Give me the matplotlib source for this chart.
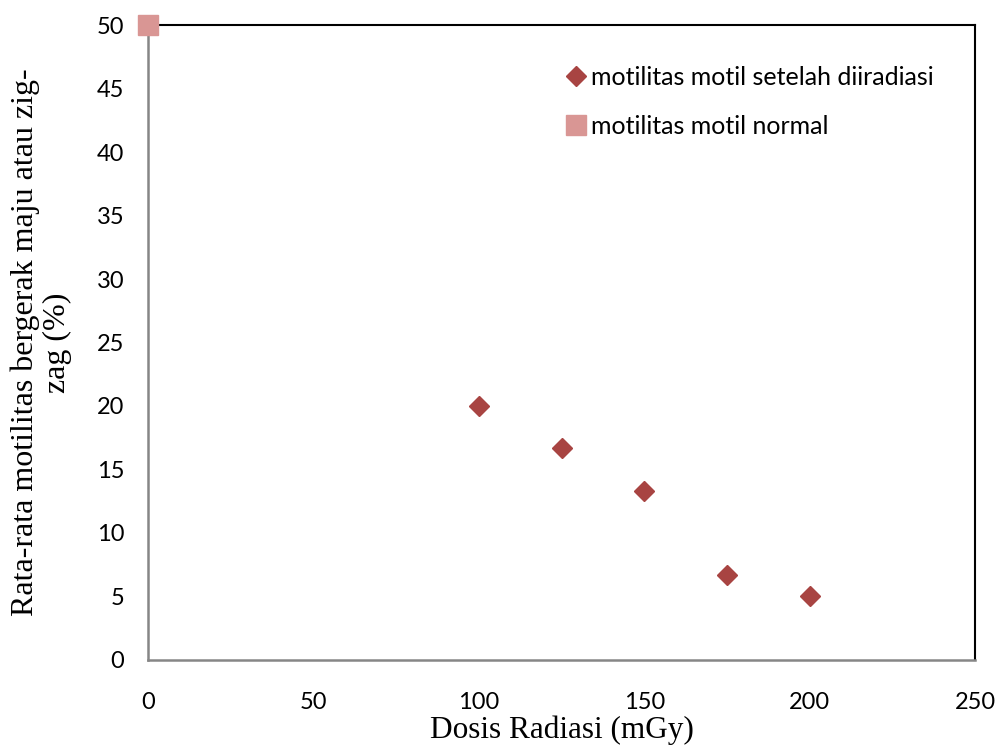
import matplotlib

matplotlib.use("Agg")
import matplotlib.pyplot as plt  # noqa: E402

# data
dose_irr = [100, 125, 150, 175, 200]
motil_irr = [20.0, 16.7, 13.3, 6.67, 5.0]
dose_norm = [0]
motil_norm = [50.0]

x_ticks = [0, 50, 100, 150, 200, 250]
y_ticks = [0, 5, 10, 15, 20, 25, 30, 35, 40, 45, 50]

TICK_FONT = "Lato"
LABEL_FONT = "Liberation Serif"

fig = plt.figure(figsize=(9.97, 7.47), dpi=100)
ax = fig.add_axes([0.1484, 0.1165, 0.8296, 0.85])

ax.plot(dose_irr, motil_irr, linestyle="none", marker="D", markersize=10.5,
        color="#A84442", markeredgecolor="#A84442", clip_on=False, zorder=3,
        label="motilitas motil setelah diiradiasi")
ax.plot(dose_norm, motil_norm, linestyle="none", marker="s", markersize=14,
        color="#D99694", markeredgecolor="#D99694", clip_on=False, zorder=4,
        label="motilitas motil normal")

ax.set_xlim(0, 250)
ax.set_ylim(0, 50)
ax.set_xticks(x_ticks)
ax.set_yticks(y_ticks)
ax.tick_params(length=0, labelsize=17)
ax.tick_params(axis="x", pad=23)
ax.tick_params(axis="y", pad=17)
for lab in ax.get_xticklabels() + ax.get_yticklabels():
    lab.set_fontfamily(TICK_FONT)

for side in ("left", "bottom"):
    ax.spines[side].set_color("#868686")
    ax.spines[side].set_linewidth(1.8)
for side in ("top", "right"):
    ax.spines[side].set_color("black")
    ax.spines[side].set_linewidth(1.5)

ax.set_xlabel("Dosis Radiasi (mGy)", fontsize=22.5, family=LABEL_FONT, labelpad=2)
ax.set_ylabel("Rata-rata motilitas bergerak maju atau zig-\nzag (%)",
              fontsize=23, family=LABEL_FONT, labelpad=18, linespacing=1.1)

leg = ax.legend(loc="upper left", bbox_to_anchor=(0.49, 0.952), frameon=False,
                prop={"family": TICK_FONT, "size": 18}, handletextpad=0.1,
                labelspacing=1.05, handlelength=1.0, borderaxespad=0)

fig.savefig("out.png", dpi=100)
